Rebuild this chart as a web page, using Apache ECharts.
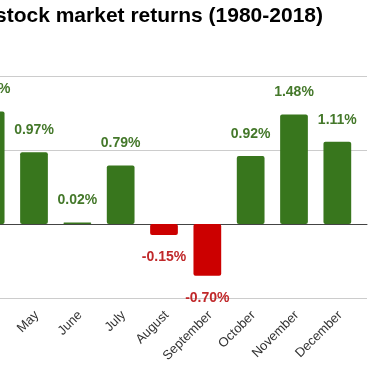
<!DOCTYPE html>
<html>
<head>
<meta charset="utf-8">
<script src="https://cdn.jsdelivr.net/npm/echarts@6/dist/echarts.min.js"></script>
<style>html,body{margin:0;padding:0;background:#fff}#c{width:374px;height:374px}</style>
</head>
<body>
<div id="c"></div>
<script>
const titleText = 'Average monthly stock market returns (1980-2018)';
const months = ['January','February','March','April','May','June','July','August','September','October','November','December'];
const returns = [0.95, 0.10, 1.05, 1.52, 0.97, 0.02, 0.79, -0.15, -0.70, 0.92, 1.48, 1.11];
const yMin = -1, yMax = 2, yStep = 1;

const GREEN = '#38761d', RED = '#cc0000';
const chart = echarts.init(document.getElementById('c'), null, {renderer: 'canvas'});
const data = returns.map(v => ({
  value: v,
  itemStyle: {color: v < 0 ? RED : GREEN},
  label: {position: v < 0 ? 'bottom' : 'top', color: v < 0 ? '#c0282a' : '#44782a'}
}));
chart.setOption({
  animation: false,
  graphic: [{
    type: 'text', x: 323, y: 6, z: 10,
    style: {text: titleText, align: 'right', verticalAlign: 'top', fill: '#000',
      font: 'bold 21px "Liberation Sans"'}
  }],
  grid: [
    {left: -161, right: 15, top: 76, bottom: 76, containLabel: false, outerBoundsMode: 'none'},
    {left: -161, right: 7, top: 76, bottom: 76, containLabel: false, outerBoundsMode: 'none'}
  ],
  xAxis: [
    {type: 'category', gridIndex: 0, data: months, axisLine: {show: false}, axisTick: {show: false},
     axisLabel: {rotate: 45, margin: 18, padding: [0, -4, 0, 0], interval: 0, color: '#333',
       fontFamily: 'Liberation Sans', fontSize: 13}},
    {type: 'value', gridIndex: 1, min: 0, max: 1, axisLine: {show: true, onZero: true, lineStyle: {color: '#444', width: 1}},
     axisTick: {show: false}, axisLabel: {show: false}, splitLine: {show: false}}
  ],
  yAxis: [
    {type: 'value', gridIndex: 0, min: yMin, max: yMax, interval: yStep, axisLabel: {show: false},
     splitLine: {show: false}, axisLine: {show: false}, axisTick: {show: false}},
    {type: 'value', gridIndex: 1, min: yMin, max: yMax, interval: yStep, axisLabel: {show: false},
     splitLine: {show: true, lineStyle: {color: '#cccccc', width: 1}}, axisLine: {show: false}, axisTick: {show: false}}
  ],
  series: [{
    type: 'bar', xAxisIndex: 0, yAxisIndex: 0, data: data, barWidth: '64%',
    itemStyle: {borderRadius: 2},
    label: {show: true, distance: 15, fontFamily: 'Liberation Sans', fontWeight: 'bold', fontSize: 14,
      formatter: p => p.value.toFixed(2) + '%'}
  }]
});
</script>
</body>
</html>
